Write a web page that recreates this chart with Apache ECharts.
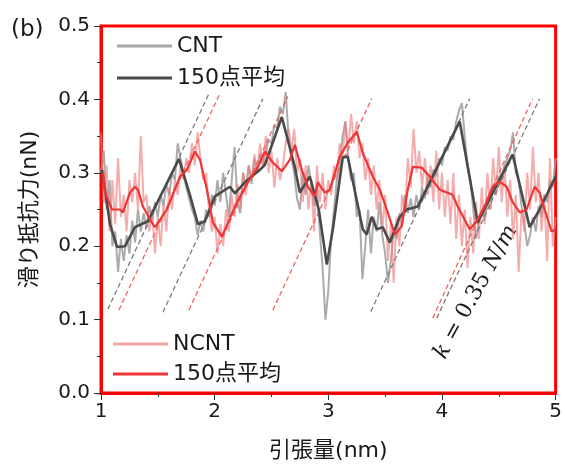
<!DOCTYPE html>
<html>
<head>
<meta charset="utf-8">
<script src="https://cdn.jsdelivr.net/npm/echarts@6/dist/echarts.min.js"></script>
<style>
  html, body { margin: 0; padding: 0; background: #fff; }
  #main { width: 565px; height: 467px; }
</style>
</head>
<body>
<div id="main"></div>
<script>
// 生データ (0.025 nm 刻み, 1.0〜5.0 nm)
var rawStart = 1.0;
var rawStep = 0.025;
var cntRaw = [
  0.30, 0.33, 0.25, 0.29, 0.20, 0.22, 0.165, 0.21,
  0.18, 0.215, 0.19, 0.235, 0.205, 0.25, 0.22, 0.245,
  0.225, 0.255, 0.235, 0.26, 0.24, 0.27, 0.255, 0.285,
  0.27, 0.30, 0.29, 0.34, 0.32, 0.30, 0.28, 0.265,
  0.25, 0.24, 0.215, 0.235, 0.22, 0.25, 0.24, 0.27,
  0.255, 0.29, 0.26, 0.30, 0.27, 0.24, 0.29, 0.335,
  0.26, 0.245, 0.30, 0.28, 0.31, 0.285, 0.32, 0.30,
  0.325, 0.31, 0.33, 0.345, 0.34, 0.365, 0.36, 0.39,
  0.38, 0.41, 0.35, 0.32, 0.30, 0.265, 0.25, 0.30,
  0.27, 0.31, 0.285, 0.255, 0.28, 0.22, 0.17, 0.10,
  0.14, 0.21, 0.25, 0.29, 0.31, 0.35, 0.37, 0.32,
  0.29, 0.30, 0.24, 0.25, 0.155, 0.20, 0.25, 0.19,
  0.24, 0.22, 0.26, 0.215, 0.19, 0.15, 0.18, 0.22,
  0.21, 0.245, 0.23, 0.27, 0.245, 0.265, 0.24, 0.27,
  0.25, 0.28, 0.265, 0.295, 0.28, 0.305, 0.295, 0.32,
  0.31, 0.335, 0.33, 0.35, 0.345, 0.37, 0.385, 0.395,
  0.35, 0.31, 0.29, 0.25, 0.21, 0.235, 0.25, 0.235,
  0.26, 0.25, 0.28, 0.27, 0.295, 0.29, 0.31, 0.32,
  0.33, 0.355, 0.30, 0.29, 0.255, 0.23, 0.20, 0.215,
  0.24, 0.22, 0.255, 0.24, 0.27, 0.26, 0.29, 0.28,
  0.32
];
var ncntRaw = [
  0.355, 0.26, 0.31, 0.22, 0.29, 0.23, 0.32, 0.24,
  0.27, 0.22, 0.29, 0.26, 0.30, 0.25, 0.35, 0.26,
  0.27, 0.22, 0.25, 0.19, 0.24, 0.20, 0.26, 0.22,
  0.28, 0.25, 0.29, 0.27, 0.31, 0.29, 0.32, 0.30,
  0.34, 0.31, 0.355, 0.32, 0.29, 0.30, 0.25, 0.22,
  0.24, 0.19, 0.23, 0.20, 0.25, 0.22, 0.27, 0.24,
  0.285, 0.25, 0.30, 0.27, 0.31, 0.29, 0.325, 0.30,
  0.34, 0.31, 0.35, 0.30, 0.33, 0.28, 0.32, 0.29,
  0.31, 0.34, 0.36, 0.33, 0.36, 0.30, 0.32, 0.26,
  0.31, 0.25, 0.29, 0.22, 0.31, 0.26, 0.30, 0.25,
  0.29, 0.27, 0.31, 0.29, 0.34, 0.32, 0.37, 0.33,
  0.38, 0.34, 0.37, 0.32, 0.34, 0.29, 0.32, 0.27,
  0.31, 0.25, 0.29, 0.22, 0.27, 0.18, 0.23, 0.15,
  0.24, 0.20, 0.27, 0.25, 0.32, 0.28, 0.36, 0.30,
  0.33, 0.28, 0.32, 0.27, 0.31, 0.26, 0.33, 0.25,
  0.30, 0.24, 0.29, 0.23, 0.30, 0.21, 0.27, 0.20,
  0.25, 0.17, 0.24, 0.19, 0.26, 0.21, 0.28, 0.23,
  0.30, 0.25, 0.32, 0.27, 0.335, 0.26, 0.31, 0.24,
  0.29, 0.21, 0.27, 0.165, 0.25, 0.22, 0.30, 0.25,
  0.335, 0.26, 0.30, 0.22, 0.27, 0.18, 0.32, 0.20,
  0.24
];

// 150点平均
var cntAvgX = [1.009, 1.079, 1.141, 1.211, 1.299, 1.413, 1.686, 1.782, 1.853, 1.914,
  2.002, 2.134, 2.178, 2.266, 2.398, 2.442, 2.591, 2.705, 2.749, 2.837,
  2.916, 2.987, 3.040, 3.127, 3.171, 3.303, 3.338, 3.382, 3.426, 3.479,
  3.541, 3.629, 3.690, 3.787, 3.892, 4.156, 4.314, 4.446, 4.622, 4.771,
  4.859, 5.0];
var cntAvgY = [0.304, 0.230, 0.199, 0.200, 0.226, 0.234, 0.319, 0.270, 0.230, 0.234,
  0.268, 0.281, 0.272, 0.287, 0.304, 0.311, 0.376, 0.308, 0.273, 0.295,
  0.250, 0.175, 0.223, 0.321, 0.322, 0.223, 0.216, 0.240, 0.223, 0.226,
  0.205, 0.240, 0.250, 0.254, 0.287, 0.370, 0.232, 0.273, 0.325, 0.226,
  0.250, 0.295];
var ncntAvgX = [1.018, 1.035, 1.097, 1.167, 1.193, 1.255, 1.299, 1.325, 1.369, 1.448,
  1.475, 1.580, 1.695, 1.756, 1.826, 1.870, 1.932, 1.985, 2.064, 2.178,
  2.292, 2.380, 2.442, 2.512, 2.591, 2.662, 2.705, 2.767, 2.820, 2.881,
  2.908, 2.969, 3.013, 3.101, 3.171, 3.251, 3.303, 3.391, 3.453, 3.523,
  3.585, 3.646, 3.699, 3.743, 3.822, 3.892, 3.980, 4.094, 4.138, 4.200,
  4.244, 4.305, 4.376, 4.446, 4.508, 4.569, 4.622, 4.684, 4.745, 4.815,
  4.859, 4.903, 4.965, 5.0];
var ncntAvgY = [0.300, 0.273, 0.250, 0.250, 0.246, 0.273, 0.281, 0.277, 0.254, 0.232,
  0.226, 0.250, 0.295, 0.304, 0.329, 0.318, 0.277, 0.232, 0.213, 0.254,
  0.287, 0.308, 0.329, 0.314, 0.302, 0.318, 0.338, 0.304, 0.281, 0.268,
  0.287, 0.273, 0.277, 0.322, 0.341, 0.356, 0.327, 0.295, 0.277, 0.246,
  0.216, 0.227, 0.277, 0.308, 0.307, 0.295, 0.277, 0.270, 0.254, 0.236,
  0.223, 0.234, 0.254, 0.281, 0.288, 0.281, 0.260, 0.246, 0.250, 0.281,
  0.273, 0.250, 0.220, 0.223];

// 傾き k = 0.35 N/m の補助線 [x0, y0, x1, y1]
var cntGuides = [
  [1.06, 0.114, 1.95, 0.408],
  [1.545, 0.110, 2.424, 0.401],
  [3.374, 0.111, 4.244, 0.401],
  [3.954, 0.102, 4.859, 0.401]
];
var ncntGuides = [
  [1.158, 0.113, 2.046, 0.408],
  [1.774, 0.113, 2.644, 0.404],
  [2.512, 0.113, 3.382, 0.401],
  [3.919, 0.102, 4.798, 0.401]
];

var xTicks = [1, 2, 3, 4, 5];
var yTicks = [0.0, 0.1, 0.2, 0.3, 0.4, 0.5];

var FONT = '"DejaVu Sans", "Noto Sans CJK JP", sans-serif';

function rawPairs(arr) {
  var out = [];
  for (var i = 0; i < arr.length; i++) out.push([rawStart + i * rawStep, arr[i]]);
  return out;
}
function zipPairs(xs, ys) {
  return xs.map(function (x, i) { return [x, ys[i]]; });
}
function guideSeries(list, color) {
  return list.map(function (g) {
    return {
      type: 'line', silent: true, symbol: 'none', z: 3,
      data: [[g[0], g[1]], [g[2], g[3]]],
      lineStyle: { color: color, width: 1.3, type: [5, 3] }
    };
  });
}

var chart = echarts.init(document.getElementById('main'));

var series = [
  { name: 'CNT', type: 'line', symbol: 'none', z: 1, data: rawPairs(cntRaw),
    lineStyle: { color: '#9c9c9c', width: 2, opacity: 0.85 }, itemStyle: { color: '#a6a6a6' } },
  { name: 'NCNT', type: 'line', symbol: 'none', z: 2, data: rawPairs(ncntRaw),
    lineStyle: { color: '#f08080', width: 2, opacity: 0.65 }, itemStyle: { color: '#f4a3a3' } }
].concat(guideSeries(cntGuides, '#7a7a7a'))
 .concat(guideSeries(ncntGuides, '#f26060'))
 .concat([
  { name: 'CNT150', type: 'line', symbol: 'none', z: 4, data: zipPairs(cntAvgX, cntAvgY),
    lineStyle: { color: '#4a4a4a', width: 2.6 }, itemStyle: { color: '#4a4a4a' } },
  { name: 'NCNT150', type: 'line', symbol: 'none', z: 5, data: zipPairs(ncntAvgX, ncntAvgY),
    lineStyle: { color: '#ee3535', width: 2.2 }, itemStyle: { color: '#ee3535' } }
]);

var legendCommon = {
  orient: 'vertical', icon: 'rect', itemWidth: 55, itemHeight: 3,
  selectedMode: false,
  formatter: function (n) { return (n === 'CNT150' || n === 'NCNT150') ? '150点平均' : n; },
  textStyle: { fontFamily: FONT, fontSize: 22, color: '#1a1a1a', lineHeight: 22, padding: [0, 0, 0, 0] }
};

chart.setOption({
  animation: false,
  backgroundColor: '#fff',
  grid: { left: 101, right: 9, top: 26, bottom: 73, show: true, borderColor: '#ff0000', borderWidth: 3 },
  legend: [
    Object.assign({ data: ['CNT', 'CNT150'], left: 112, top: 30, itemGap: 10 }, legendCommon),
    Object.assign({ data: ['NCNT', 'NCNT150'], left: 108, top: 328, itemGap: 8 }, legendCommon)
  ],
  xAxis: {
    type: 'value', min: xTicks[0], max: xTicks[xTicks.length - 1], interval: 1,
    name: '引張量(nm)', nameLocation: 'middle', nameGap: 47,
    nameTextStyle: { fontFamily: FONT, fontSize: 22, color: '#1a1a1a' },
    axisLine: { lineStyle: { color: '#ff0000', width: 3 } },
    axisTick: { show: true, length: 7, lineStyle: { color: '#333', width: 1 } },
    minorTick: { show: true, splitNumber: 2, length: 4, lineStyle: { color: '#333' } },
    splitLine: { show: false },
    axisLabel: { fontFamily: FONT, fontSize: 20, color: '#1a1a1a', margin: 9 }
  },
  yAxis: {
    type: 'value', min: yTicks[0], max: yTicks[yTicks.length - 1], interval: 0.1,
    name: '滑り抵抗力(nN)', nameLocation: 'middle', nameGap: 60, nameRotate: 90,
    nameTextStyle: { fontFamily: FONT, fontSize: 22, color: '#1a1a1a' },
    axisLine: { lineStyle: { color: '#ff0000', width: 3 } },
    axisTick: { show: true, length: 7, lineStyle: { color: '#333', width: 1 } },
    minorTick: { show: true, splitNumber: 2, length: 4, lineStyle: { color: '#333' } },
    splitLine: { show: false },
    axisLabel: { fontFamily: FONT, fontSize: 20, color: '#1a1a1a', margin: 11,
      formatter: function (v) { return v.toFixed(1); } }
  },
  graphic: [
    { type: 'text', left: 11, top: 19,
      style: { text: '(b)', font: '23px ' + FONT, fill: '#1a1a1a' } },
    { type: 'text', x: 476, y: 292, rotation: 61 * Math.PI / 180,
      style: {
        text: '{i|k} = 0.35 {i|N}/{i|m}',
        fontFamily: '"DejaVu Serif", serif', fontSize: 22, fill: '#1a1a1a',
        align: 'center', verticalAlign: 'middle',
        rich: { i: { fontFamily: '"DejaVu Serif", serif', fontStyle: 'italic', fontSize: 22 } }
      } }
  ],
  series: series
});
</script>
</body>
</html>
